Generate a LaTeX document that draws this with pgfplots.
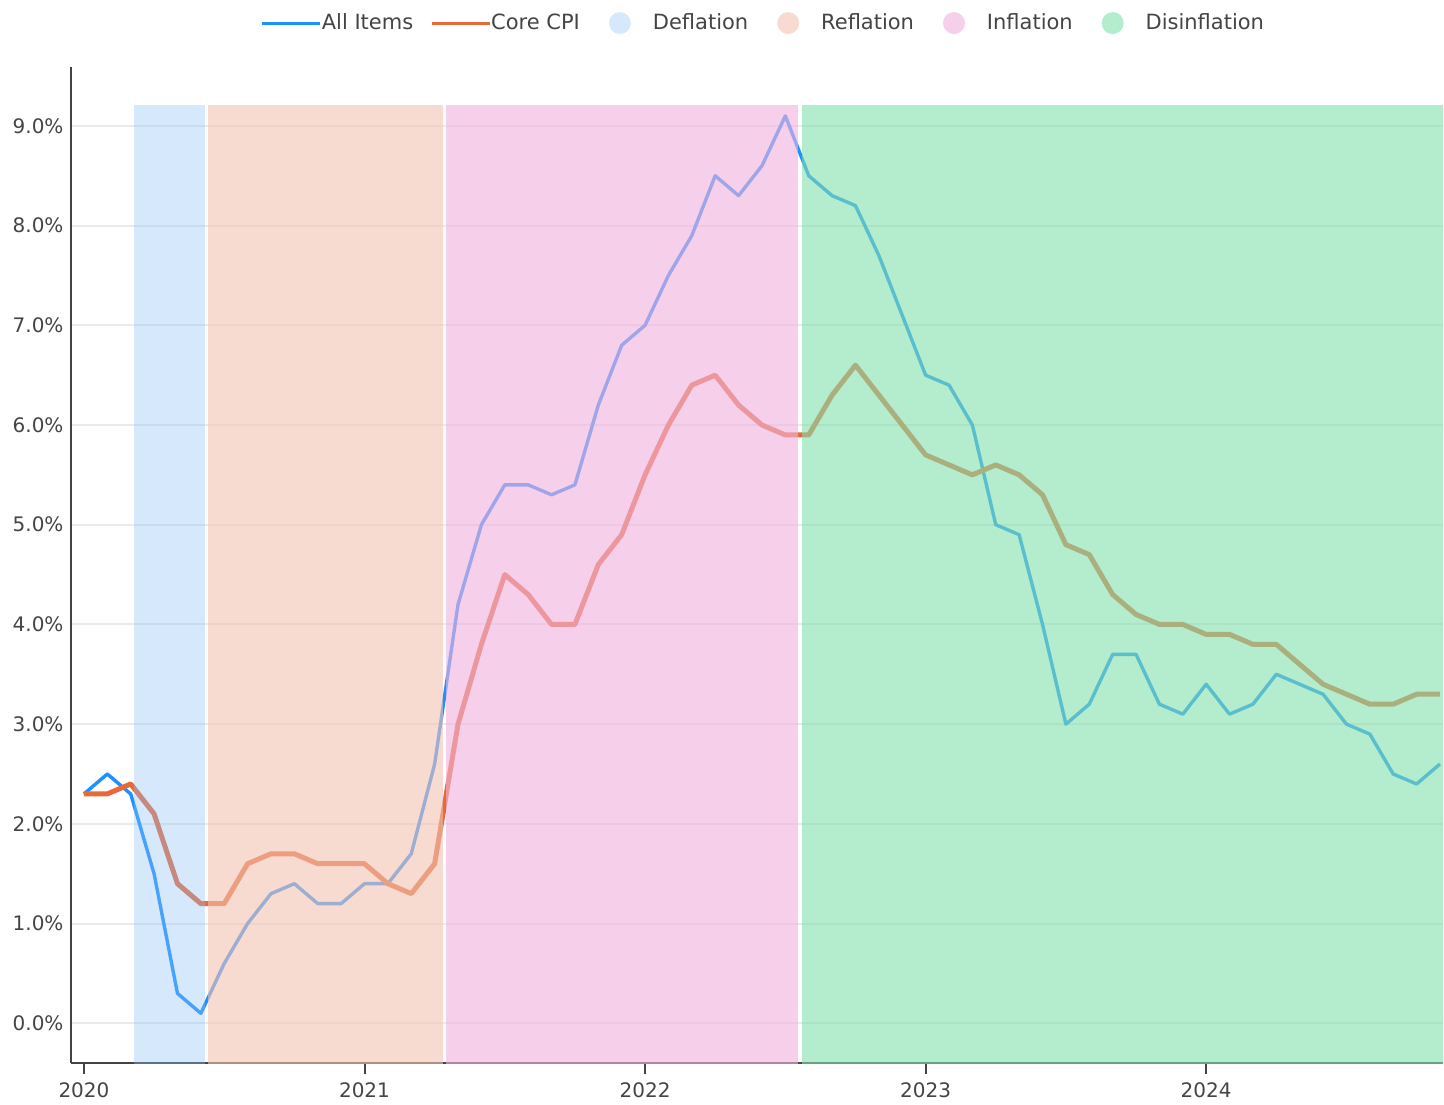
\documentclass[border=0pt]{standalone}
\usepackage{pgfplots}
\usepackage{pgfplotstable}
\pgfplotsset{compat=1.18}
\usepackage{fontspec}
\setmainfont{DejaVu Sans}
\definecolor{allc}{RGB}{30,144,255}
\definecolor{corec}{RGB}{232,104,56}
\definecolor{deflC}{RGB}{143,195,246}
\definecolor{reflC}{RGB}{242,195,177}
\definecolor{inflC}{RGB}{240,179,221}
\definecolor{disC}{RGB}{130,223,173}
\definecolor{deflL}{RGB}{214,233,252}
\definecolor{reflL}{RGB}{247,219,208}
\definecolor{inflL}{RGB}{246,208,234}
\definecolor{disL}{RGB}{180,236,206}
\definecolor{txt}{RGB}{68,68,68}
\definecolor{gridc}{RGB}{235,235,235}

\pgfplotstableread{
m all core
0 2.3 2.3
1 2.5 2.3
2 2.3 2.4
3 1.5 2.1
4 0.3 1.4
5 0.1 1.2
6 0.6 1.2
7 1.0 1.6
8 1.3 1.7
9 1.4 1.7
10 1.2 1.6
11 1.2 1.6
12 1.4 1.6
13 1.4 1.4
14 1.7 1.3
15 2.6 1.6
16 4.2 3.0
17 5.0 3.8
18 5.4 4.5
19 5.4 4.3
20 5.3 4.0
21 5.4 4.0
22 6.2 4.6
23 6.8 4.9
24 7.0 5.5
25 7.5 6.0
26 7.9 6.4
27 8.5 6.5
28 8.3 6.2
29 8.6 6.0
30 9.1 5.9
31 8.5 5.9
32 8.3 6.3
33 8.2 6.6
34 7.7 6.3
35 7.1 6.0
36 6.5 5.7
37 6.4 5.6
38 6.0 5.5
39 5.0 5.6
40 4.9 5.5
41 4.0 5.3
42 3.0 4.8
43 3.2 4.7
44 3.7 4.3
45 3.7 4.1
46 3.2 4.0
47 3.1 4.0
48 3.4 3.9
49 3.1 3.9
50 3.2 3.8
51 3.5 3.8
52 3.4 3.6
53 3.3 3.4
54 3.0 3.3
55 2.9 3.2
56 2.5 3.2
57 2.4 3.3
58 2.6 3.3
}\cpidata

\begin{document}
\begin{tikzpicture}
\begin{axis}[
  scale only axis,
  width=686.5pt, height=498.5pt,
  xmin=-0.556, xmax=58.13,
  ymin=-0.401, ymax=9.591,
  axis x line*=bottom, axis y line*=left,
  axis line style={txt, line width=1pt},
  xtick={0,12,24,36,48},
  xticklabels={2020,2021,2022,2023,2024},
  ytick={0,1,2,3,4,5,6,7,8,9},
  yticklabel={\pgfmathprintnumber[fixed,fixed zerofill,precision=1]{\tick}\%},
  /pgf/number format/assume math mode=true,
  tick align=outside,
  major tick length=5.5pt,
  xtick style={txt, line width=1pt},
  ytick style={draw=none},
  ymajorgrids,
  grid style={gridc, line width=1pt},
  ticklabel style={font=\fontsize{10}{12}\selectfont, text=txt},
  yticklabel style={xshift=5.3pt},
  xticklabel style={yshift=-0.5pt},
  legend style={at={(0.504,1.044)}, anchor=center, draw=none, fill=none,
    legend columns=-1, font=\fontsize{10.5}{12.5}\selectfont, text=txt,
    nodes={inner xsep=0pt, inner ysep=1pt},
    /tikz/every even column/.append style={column sep=8.5pt}},
]
\addplot[allc, line width=1.7pt, line join=round,
  legend image code/.code={\draw[line width=1.5pt] (0pt,0pt) -- (29pt,0pt);}]
  table[x=m, y=all] {\cpidata};
\addlegendentry{All Items}
\addplot[corec, line width=2.5pt, line join=round,
  legend image code/.code={\draw[line width=1.5pt] (0pt,0pt) -- (29pt,0pt);}]
  table[x=m, y=core] {\cpidata};
\addlegendentry{Core CPI}

\addplot[draw=none, fill=deflC, fill opacity=0.37, forget plot]
  coordinates {(2.14,-1) (5.18,-1) (5.18,9.21) (2.14,9.21)} -- cycle;
\addplot[draw=none, fill=reflC, fill opacity=0.6, forget plot]
  coordinates {(5.31,-1) (15.36,-1) (15.36,9.21) (5.31,9.21)} -- cycle;
\addplot[draw=none, fill=inflC, fill opacity=0.62, forget plot]
  coordinates {(15.50,-1) (30.53,-1) (30.53,9.21) (15.50,9.21)} -- cycle;
\addplot[draw=none, fill=disC, fill opacity=0.6, forget plot]
  coordinates {(30.71,-1) (60,-1) (60,9.21) (30.71,9.21)} -- cycle;

\addlegendimage{legend image code/.code={\fill[deflL, draw=none] (5.5pt,0pt) circle[radius=5.5pt]; \path[draw=none, fill=none] (-6pt,0pt) -- (22pt,0pt);}}
\addlegendentry{Deflation}
\addlegendimage{legend image code/.code={\fill[reflL, draw=none] (5.5pt,0pt) circle[radius=5.5pt]; \path[draw=none, fill=none] (-6pt,0pt) -- (22pt,0pt);}}
\addlegendentry{Reflation}
\addlegendimage{legend image code/.code={\fill[inflL, draw=none] (5.5pt,0pt) circle[radius=5.5pt]; \path[draw=none, fill=none] (-6pt,0pt) -- (22pt,0pt);}}
\addlegendentry{Inflation}
\addlegendimage{legend image code/.code={\fill[disL, draw=none] (5.5pt,0pt) circle[radius=5.5pt]; \path[draw=none, fill=none] (-6pt,0pt) -- (22pt,0pt);}}
\addlegendentry{Disinflation}
\end{axis}
\path ([shift={(-35.5pt,-19.5pt)}]current axis.south west) rectangle ([shift={(0pt,33.5pt)}]current axis.north east);
\end{tikzpicture}
\end{document}
